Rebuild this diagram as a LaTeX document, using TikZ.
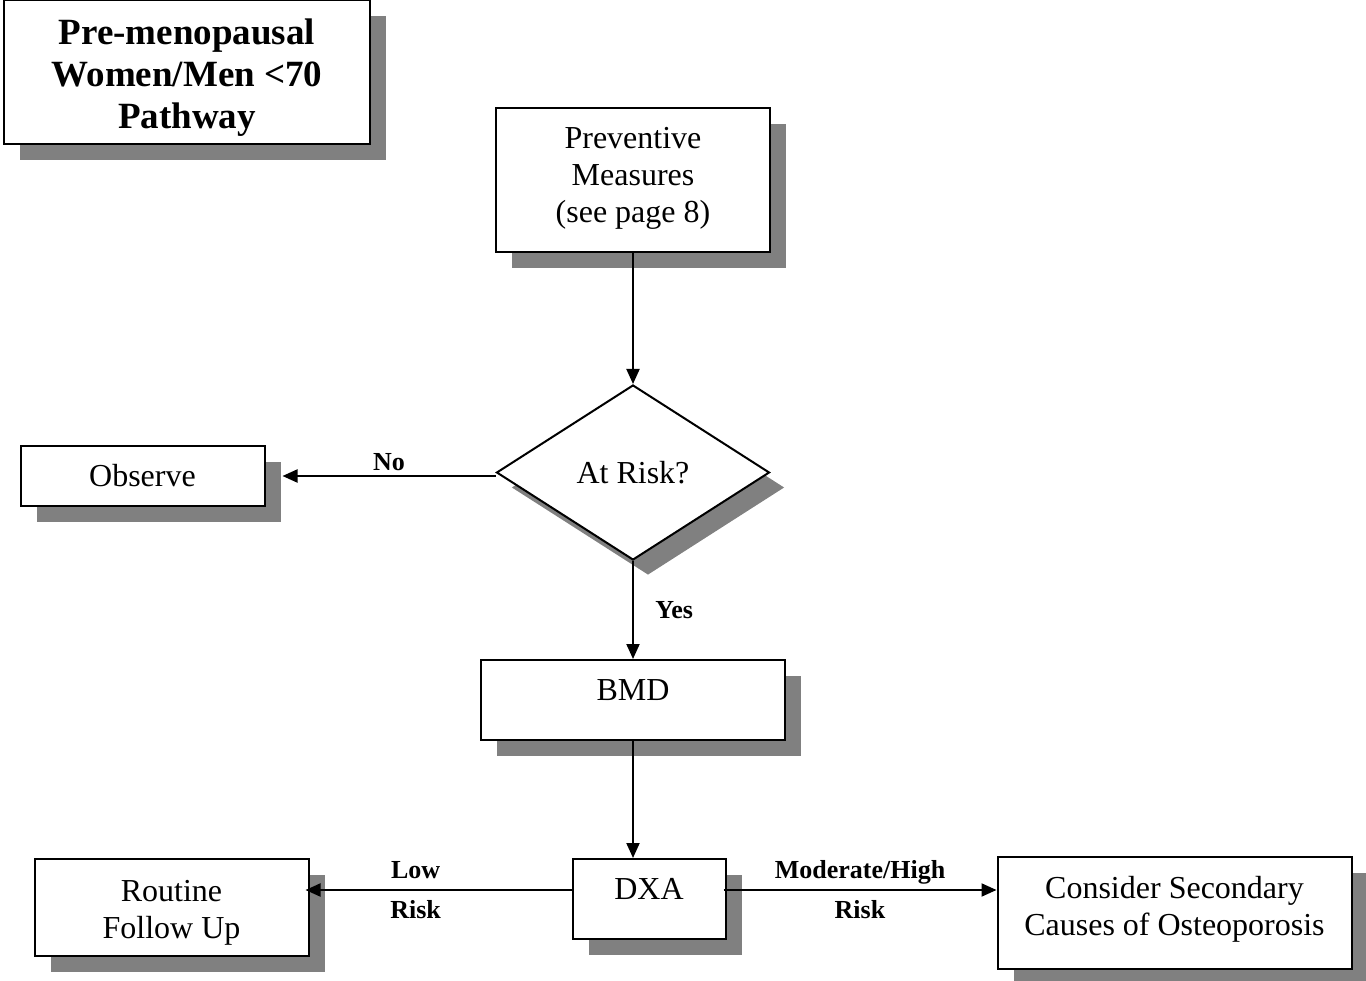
\documentclass[tikz,border=0pt]{standalone}
\usepackage{fontspec}
\setmainfont{Liberation Serif}
\usetikzlibrary{arrows.meta,shapes,shadows,positioning}
\tikzset{
	box/.style={
		rectangle,
		draw=black,
		line width=2pt,
		fill=white,
		align=center,
		font=\fontsize{32}{37}\selectfont,
		drop shadow={shadow xshift=16pt,shadow yshift=-16pt,fill=black!50,opacity=1}
	},
	titlebox/.style={
		box,
		font=\fontsize{37}{42}\selectfont\bfseries,
		minimum width=366pt,
		minimum height=144pt
	},
	decision/.style={
		diamond,
		draw=black,
		line width=2pt,
		fill=white,
		inner sep=0pt,
		minimum width=273pt,
		minimum height=175pt,
		font=\fontsize{32}{37}\selectfont,
		drop shadow={shadow xshift=15pt,shadow yshift=-15pt,fill=black!50,opacity=1}
	},
	tag/.style={
		align=center,
		font=\fontsize{26}{40}\selectfont\bfseries
	},
	flow/.style={->,line width=2pt},
	pre/.style={<-,line width=2pt}
}

\begin{document}
\begin{tikzpicture}[x=1pt,y=1pt,>={Triangle[length=15pt,width=13pt]}]
	\useasboundingbox (0,0) rectangle (1366,-981);
	\node [titlebox,text height=122pt,text depth=8pt] (title) at (187,-72) {Pre-menopausal\\Women/Men <70\\Pathway};
	\node [box,minimum width=274pt,minimum height=144pt,text height=94pt,text depth=8pt] (prev) at (633,-180) {Preventive\\Measures\\(see page 8)};
	\node [decision] (risk) [below=131pt of prev] {At Risk?} edge[pre] (prev);
	\node [box,minimum width=244pt,minimum height=60pt] (obs) [left=230pt of risk,yshift=-3.5pt] {Observe};
	\draw[flow] ([yshift=-3.5pt]risk.west) -- node[tag,above=1pt] {No} ([xshift=17pt]obs.east);
	\node [box,minimum width=304pt,minimum height=80pt,text height=21pt,text depth=21pt] (bmd) [below=98pt of risk] {BMD} edge[pre] node[tag,right=18pt] {Yes} (risk);
	\node [box,minimum width=153pt,minimum height=80pt,text height=21pt,text depth=21pt] (dxa) [below=117pt of bmd,xshift=16pt] {DXA};
	\draw[flow] (bmd.south) -- (bmd.south |- dxa.north);
	\node [box,minimum width=274pt,minimum height=97pt,text height=69pt,text depth=8pt] (rout) [left=262pt of dxa,yshift=-8.5pt] {Routine\\Follow Up};
	\node [box,minimum width=354pt,minimum height=112pt,text height=52pt,text depth=8pt] (cons) [right=270pt of dxa,yshift=-14pt] {Consider Secondary\\Causes of Osteoporosis};
	\coordinate (dl) at ([yshift=9pt]dxa.west);
	\coordinate (dr) at ([yshift=9pt]dxa.east);
	\draw[flow,shorten >=-4pt] (dl) -- node[tag,pos=0.595] {Low\\Risk} (dl -| rout.east);
	\draw[flow] ([xshift=-3pt]dr) -- node[tag] {Moderate/High\\Risk} (dr -| cons.west);
\end{tikzpicture}
\end{document}
